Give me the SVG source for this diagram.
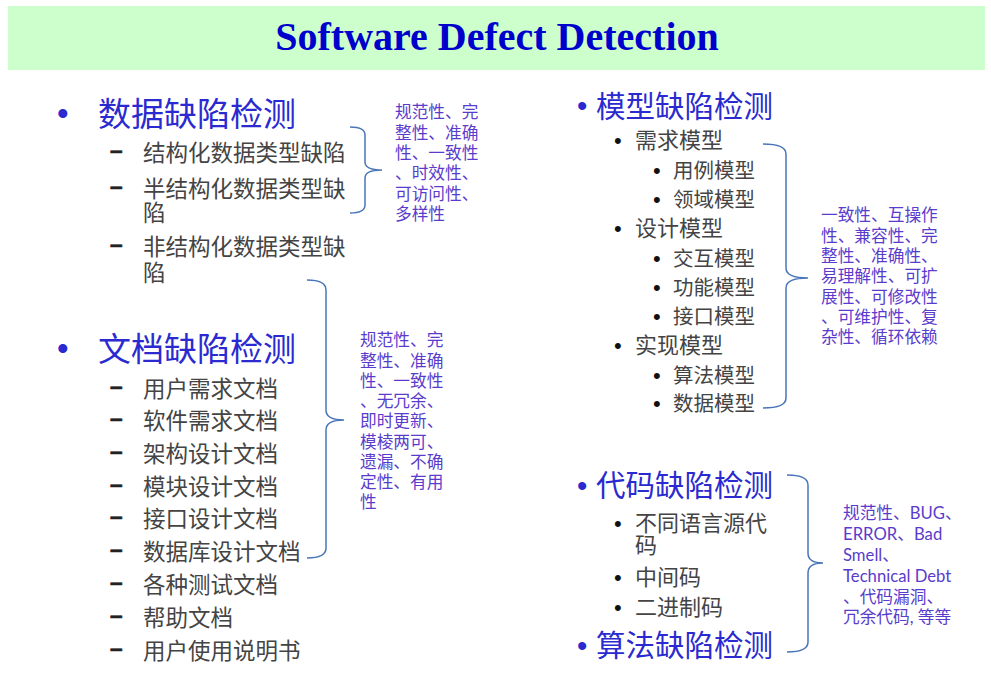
<svg xmlns="http://www.w3.org/2000/svg" width="991" height="677" viewBox="0 0 991 677">
  <style>
    .title { font-family: "Liberation Serif", "Times New Roman", serif; font-weight: bold; font-size: 40px; fill: #0000cc; }
    .cjk { font-family: "Noto Sans CJK SC", "Noto Sans", sans-serif; }
    .latin { font-family: Lato, "Noto Sans CJK SC", sans-serif; }
    .h1 { font-size: 33px; fill: #2a2ad0; }
    .h2 { font-size: 29.5px; fill: #2a2ad0; }
    .item { font-size: 22.5px; fill: #444444; }
    .sub { font-size: 22px; fill: #444444; }
    .subsub { font-size: 20.5px; fill: #444444; }
    .note { font-size: 16.7px; fill: #5a3ccc; }
    .bul { font-family: "Liberation Sans", Arial, sans-serif; }
    .bigdot { font-size: 33px; fill: #2a2ad0; }
    .bigdot2 { font-size: 29.5px; fill: #2a2ad0; }
    .dot { font-size: 22px; fill: #111111; }
    .dash { font-size: 22.5px; fill: #222222; font-weight: bold; stroke: #222222; stroke-width: 0.7; }
    .brace { fill: none; stroke: #4a76b8; stroke-width: 1.5; }
  </style>

  <!-- title band -->
  <g id="title">
    <rect x="8" y="6" width="977" height="64" fill="#ccffcc"/>
    <text class="title" x="497" y="50" text-anchor="middle">Software Defect Detection</text>
  </g>

  <!-- data defect detection -->
  <g id="data-defects">
    <text class="bul bigdot" x="57" y="125">•</text>
    <text class="cjk h1" x="98" y="125.5">数据缺陷检测</text>
    <text class="bul dash" x="110" y="158">–</text>
    <text class="cjk item" x="143" y="160.5">结构化数据类型缺陷</text>
    <text class="bul dash" x="110" y="194">–</text>
    <text class="cjk item" x="143" y="196.5">半结构化数据类型缺</text>
    <text class="cjk item" x="143" y="220.5">陷</text>
    <text class="bul dash" x="110" y="252">–</text>
    <text class="cjk item" x="143" y="254.5">非结构化数据类型缺</text>
    <text class="cjk item" x="143" y="280.5">陷</text>
  </g>
  <g id="data-notes" class="cjk note">
    <text x="395" y="118.3">规范性、完</text>
    <text x="395" y="138.6">整性、准确</text>
    <text x="395" y="158.9">性、一致性</text>
    <text x="395" y="179.2">、时效性、</text>
    <text x="395" y="199.5">可访问性、</text>
    <text x="395" y="219.8">多样性</text>
  </g>

  <!-- document defect detection -->
  <g id="doc-defects">
    <text class="bul bigdot" x="57" y="360">•</text>
    <text class="cjk h1" x="98" y="360.5">文档缺陷检测</text>
    <text class="bul dash" x="110" y="394">–</text>
    <text class="cjk item" x="143" y="396.5">用户需求文档</text>
    <text class="bul dash" x="110" y="426">–</text>
    <text class="cjk item" x="143" y="428.5">软件需求文档</text>
    <text class="bul dash" x="110" y="459">–</text>
    <text class="cjk item" x="143" y="461.5">架构设计文档</text>
    <text class="bul dash" x="110" y="492">–</text>
    <text class="cjk item" x="143" y="494.5">模块设计文档</text>
    <text class="bul dash" x="110" y="524">–</text>
    <text class="cjk item" x="143" y="526.5">接口设计文档</text>
    <text class="bul dash" x="110" y="557">–</text>
    <text class="cjk item" x="143" y="559.5">数据库设计文档</text>
    <text class="bul dash" x="110" y="590">–</text>
    <text class="cjk item" x="143" y="592.5">各种测试文档</text>
    <text class="bul dash" x="110" y="623">–</text>
    <text class="cjk item" x="143" y="625.5">帮助文档</text>
    <text class="bul dash" x="110" y="656">–</text>
    <text class="cjk item" x="143" y="658.5">用户使用说明书</text>
  </g>
  <g id="doc-notes" class="cjk note">
    <text x="360" y="346.3">规范性、完</text>
    <text x="360" y="366.5">整性、准确</text>
    <text x="360" y="386.8">性、一致性</text>
    <text x="360" y="407">、无冗余、</text>
    <text x="360" y="427.3">即时更新、</text>
    <text x="360" y="447.5">模棱两可、</text>
    <text x="360" y="467.8">遗漏、不确</text>
    <text x="360" y="488">定性、有用</text>
    <text x="360" y="508.3">性</text>
  </g>

  <!-- model defect detection -->
  <g id="model-defects">
    <text class="bul bigdot2" x="577" y="116">•</text>
    <text class="cjk h2" x="596" y="116.5">模型缺陷检测</text>
    <text class="bul dot" x="614" y="148">•</text>
    <text class="cjk sub" x="635" y="148.4">需求模型</text>
    <text class="bul dot" x="653" y="178">•</text>
    <text class="cjk subsub" x="673" y="177.8">用例模型</text>
    <text class="bul dot" x="653" y="207">•</text>
    <text class="cjk subsub" x="673" y="206.8">领域模型</text>
    <text class="bul dot" x="614" y="236">•</text>
    <text class="cjk sub" x="635" y="236.4">设计模型</text>
    <text class="bul dot" x="653" y="266">•</text>
    <text class="cjk subsub" x="673" y="265.8">交互模型</text>
    <text class="bul dot" x="653" y="295">•</text>
    <text class="cjk subsub" x="673" y="294.8">功能模型</text>
    <text class="bul dot" x="653" y="324">•</text>
    <text class="cjk subsub" x="673" y="323.8">接口模型</text>
    <text class="bul dot" x="614" y="353">•</text>
    <text class="cjk sub" x="635" y="353.4">实现模型</text>
    <text class="bul dot" x="653" y="383">•</text>
    <text class="cjk subsub" x="673" y="382.8">算法模型</text>
    <text class="bul dot" x="653" y="411">•</text>
    <text class="cjk subsub" x="673" y="410.8">数据模型</text>
  </g>
  <g id="model-notes" class="cjk note">
    <text x="821" y="221.3">一致性、互操作</text>
    <text x="821" y="241.6">性、兼容性、完</text>
    <text x="821" y="262">整性、准确性、</text>
    <text x="821" y="282.3">易理解性、可扩</text>
    <text x="821" y="302.6">展性、可修改性</text>
    <text x="821" y="323">、可维护性、复</text>
    <text x="821" y="343.3">杂性、循环依赖</text>
  </g>

  <!-- code and algorithm defect detection -->
  <g id="code-defects">
    <text class="bul bigdot2" x="577" y="496">•</text>
    <text class="cjk h2" x="596" y="496">代码缺陷检测</text>
    <text class="bul dot" x="614" y="531">•</text>
    <text class="cjk sub" x="635" y="531.4">不同语言源代</text>
    <text class="cjk sub" x="635" y="553.4">码</text>
    <text class="bul dot" x="614" y="585">•</text>
    <text class="cjk sub" x="635" y="585.4">中间码</text>
    <text class="bul dot" x="614" y="615">•</text>
    <text class="cjk sub" x="635" y="615.4">二进制码</text>
  </g>
  <g id="algorithm-defects">
    <text class="bul bigdot2" x="577" y="656">•</text>
    <text class="cjk h2" x="596" y="656">算法缺陷检测</text>
  </g>
  <g id="code-notes" class="latin note">
    <text x="843" y="519.3">规范性、BUG、</text>
    <text x="843" y="540.1">ERROR、Bad</text>
    <text x="843" y="560.9">Smell、</text>
    <text x="843" y="581.7">Technical Debt</text>
    <text x="843" y="602.5">、代码漏洞、</text>
    <text x="843" y="623.3">冗余代码, 等等</text>
  </g>

  <!-- braces grouping items with their quality attributes -->
  <g id="connectors" class="brace">
    <path d="M350 127 Q365 127 365 135 L365 162 Q365 170 382 170 Q365 170 365 178 L365 205 Q365 213 350 213"/>
    <path d="M307 280 Q326 280 326 290 L326 410 Q326 420 344 420 Q326 420 326 430 L326 548 Q326 558 307 558"/>
    <path d="M763 144 Q786 144 786 154 L786 268 Q786 278 808 278 Q786 278 786 288 L786 398 Q786 408 763 408"/>
    <path d="M787 475 Q808 475 808 485 L808 553 Q808 563 823 563 Q808 563 808 573 L808 642 Q808 652 787 652"/>
  </g>
</svg>
